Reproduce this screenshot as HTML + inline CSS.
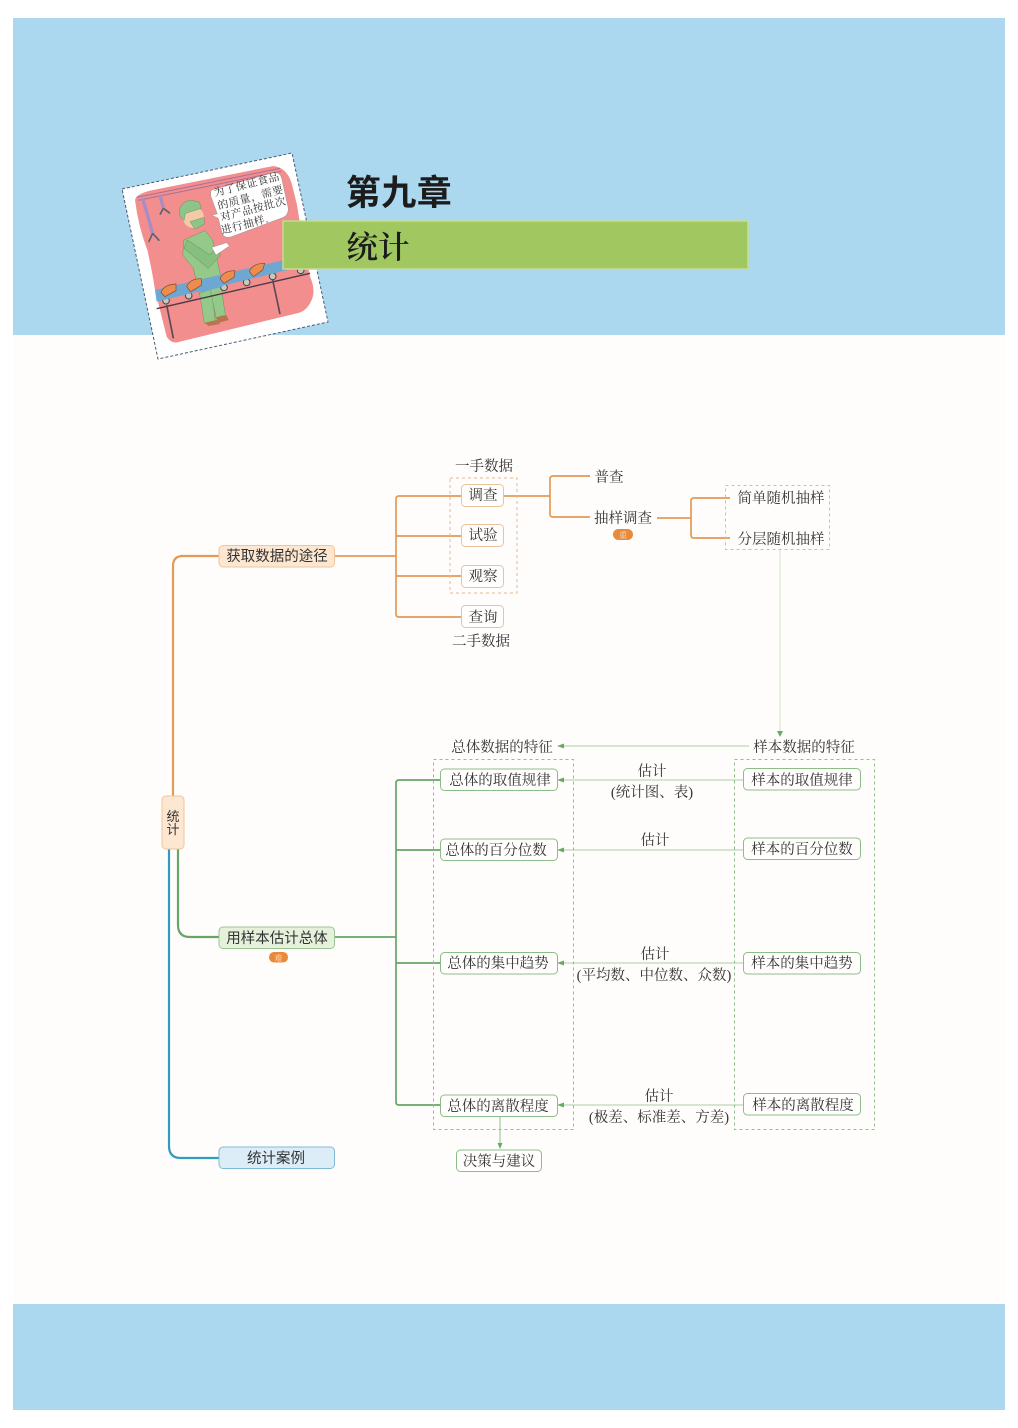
<!DOCTYPE html>
<html><head><meta charset="utf-8"><style>
html,body{margin:0;padding:0;background:#fff}
svg{display:block;filter:blur(.35px)}
text{font-family:"Liberation Serif","Noto Serif CJK SC",serif;fill:#333;font-size:14.5px;text-anchor:middle}
.n{font-family:"Liberation Sans","Noto Sans CJK SC",sans-serif}
</style></head><body>
<svg width="1018" height="1428" viewBox="0 0 1018 1428" xmlns="http://www.w3.org/2000/svg">
<rect width="1018" height="1428" fill="#fff"/>
<rect x="13" y="18" width="992" height="1392" fill="#fffdfb"/>
<rect x="13" y="18" width="992" height="317" fill="#acd8ef"/>
<rect x="13" y="1304" width="992" height="106" fill="#acd8ef"/>

<!-- card -->
<polygon points="122,189 292,153 328,322 158,359" fill="#fff" stroke="#4a5a70" stroke-width="1" stroke-dasharray="3 2"/>
<g transform="translate(110,140) scale(.33333)">
<path d="M75,180Q78,163 120,152L490,78Q530,82 545,130L560,190L585,340L600,410Q618,450 605,480Q590,515 560,520L210,605Q185,615 170,590L135,450Q128,400 112,330Q85,260 75,180Z" fill="#f28e8d"/>
<path d="M80,172L510,85M84,181L514,94" stroke="#a8709a" stroke-width="3" fill="none"/>
<path d="M98,175L128,280M150,165L160,205" stroke="#a98cc4" stroke-width="10"/>
<path d="M128,280L116,306M128,280L148,302M160,205L150,224M160,205L180,220" stroke="#5f5f6e" stroke-width="5" fill="none"/>
<!-- bubble -->
<path d="M305,150L490,98Q510,95 515,115L535,205Q535,225 520,232L365,290Q340,298 335,275L325,235L305,225L322,222L303,170Q300,155 305,150Z" fill="#fff" stroke="#777" stroke-width="1"/>
<!-- legs -->
<path d="M268,455L305,448L316,545L283,550Z" fill="#94c98a" stroke="#4f7a4a" stroke-width="1"/>
<path d="M300,445L332,430L346,525L318,533Z" fill="#94c98a" stroke="#4f7a4a" stroke-width="1"/>
<path d="M285,548L320,540L330,552L295,558ZM318,532L350,526L356,540L325,549Z" fill="#b8744a"/>
<!-- rollers -->
<g fill="#c9c9bb" stroke="#444" stroke-width="3"><circle cx="168" cy="482" r="10"/><circle cx="236" cy="467" r="10"/><circle cx="342" cy="442" r="10"/><circle cx="410" cy="427" r="10"/><circle cx="488" cy="409" r="10"/><circle cx="572" cy="391" r="10"/></g>
<!-- torso -->
<path d="M222,300L285,272L308,300L338,435L268,460L250,385L218,345Z" fill="#94c98a" stroke="#4f7a4a" stroke-width="1"/>
<!-- conveyor -->
<polygon points="135,450 600,342 608,372 140,485" fill="#6ea7d2"/>
<path d="M140,506L600,400" stroke="#4a3a44" stroke-width="4"/>
<path d="M170,495L190,595M488,420L510,522" stroke="#5a4a56" stroke-width="5"/>
<path d="M268,430L335,412L338,440L272,458Z" fill="#6ea7d2"/>
<!-- arm -->
<path d="M222,325L232,300L300,345L322,320L332,345L295,385Z" fill="#86bf80" stroke="#4f7a4a" stroke-width="1"/>
<circle cx="250" cy="232" r="32" fill="#f4c9a5"/>
<path d="M208,225Q205,190 240,180L268,186L274,205L226,220L222,242Z" fill="#8cc48a" stroke="#4f7a4a" stroke-width="1"/>
<path d="M240,245L282,232L283,252L255,268Z" fill="#8cc48a" stroke="#4f7a4a" stroke-width="1"/>
<polygon points="305,322 350,308 358,318 318,345" fill="#fff" stroke="#777"/>
<!-- items -->
<g fill="#ee8c4e" stroke="#7a4a30" stroke-width="2"><path d="M153,458Q160,434 198,432L198,452L165,470Z"/><path d="M230,440Q240,415 274,416L274,436L242,455Z"/><path d="M330,416Q340,392 375,392L372,412L342,430Z"/><path d="M418,394Q428,370 464,370L458,390L430,410Z"/></g>
</g>
<text transform="translate(247.5,188) rotate(-14.5)" style="font-size:10.8px;fill:#333;letter-spacing:.5px">为了保证食品</text>
<text transform="translate(251.5,201) rotate(-14.5)" style="font-size:10.8px;fill:#333;letter-spacing:.5px">的质量，需要</text>
<text transform="translate(254,212.5) rotate(-14.5)" style="font-size:10.8px;fill:#333;letter-spacing:.5px">对产品按批次</text>
<text transform="translate(245.5,228) rotate(-14.5)" style="font-size:10.8px;fill:#333;letter-spacing:.5px">进行抽样.</text>

<!-- title -->
<rect x="283" y="221" width="465" height="48" fill="#a1c761" stroke="#c4dc96" stroke-width="1.5"/>
<text class="n" x="399" y="205" style="font-size:35px;font-weight:700;fill:#1c1c1c;letter-spacing:.5px">第九章</text>
<text x="378" y="258" style="font-size:31.5px;fill:#1c1c1c;font-weight:600">统计</text>

<!-- connectors -->
<g fill="none" stroke-linecap="butt">
<g stroke="#e39a57" stroke-width="1.7">
<path d="M173,797V566Q173,556 183,556H219" stroke-width="2.2"/>
<path d="M334,556H396"/>
<path d="M461,496H399Q396,496 396,499V614Q396,617 399,617H461"/>
<path d="M396,536H461M396,576H461"/>
<path d="M504,496H550"/>
<path d="M590,476H553Q550,476 550,479V514Q550,517 553,517H590"/>
<path d="M657,518H691"/>
<path d="M730,498H694Q691,498 691,501V535Q691,538 694,538H730"/>
</g>
<g stroke="#65a565" stroke-width="1.7">
<path d="M178,849V925Q178,937 190,937H219" stroke-width="2.2"/>
<path d="M334,937H396"/>
<path d="M440,780H399Q396,780 396,783V1102Q396,1105 399,1105H440"/>
<path d="M396,850H440M396,963H440"/>
</g>
<path d="M169,849V1146Q169,1158 181,1158H219" stroke="#2f9cc0" stroke-width="2.2"/>
<g stroke="#c4dfbe" stroke-width="1">
<path d="M780,550V732" stroke="#cfe0c8"/>
<path d="M563,746H749M563,780H743M563,850H743M563,963H743M563,1105H743" stroke="#a9d0a4"/>
<path d="M500,1116V1145" stroke="#8cbf88"/>
</g>
</g>
<g fill="#66ab63">
<polygon points="780,737 777,731 783,731"/>
<polygon points="557,746 564,743.5 564,748.5"/>
<polygon points="557,780 564,777.5 564,782.5"/>
<polygon points="557,850 564,847.5 564,852.5"/>
<polygon points="557,963 564,960.5 564,965.5"/>
<polygon points="557,1105 564,1102.5 564,1107.5"/>
<polygon points="500,1149 497.5,1143 502.5,1143"/>
</g>

<!-- dashed -->
<g fill="none" stroke-dasharray="3 3" stroke-width="1">
<rect x="450" y="478" width="67" height="115" stroke="#e3b98c"/>
<rect x="725.5" y="485.5" width="104" height="64" stroke="#e3b98c"/>
<rect x="433.5" y="759.5" width="140" height="370" stroke="#8fc08a"/>
<rect x="734.5" y="759.5" width="140" height="370" stroke="#8fc08a"/>
</g>

<!-- nodes -->
<g fill="#fffefc" stroke="#e8c39c" stroke-width="1">
<rect x="461.5" y="484.5" width="42" height="22" rx="4"/>
<rect x="461.5" y="524.5" width="42" height="22" rx="4"/>
<rect x="461.5" y="565.5" width="42" height="22" rx="4"/>
<rect x="461.5" y="605.5" width="42" height="22" rx="4"/>
</g>
<rect x="219" y="545.5" width="115.5" height="21.5" rx="4" fill="#fde7d1" stroke="#efc59c"/>
<rect x="219" y="927" width="115.5" height="21.5" rx="4" fill="#e6f1dc" stroke="#9cc596"/>
<rect x="219" y="1147" width="115.5" height="21.5" rx="4" fill="#dcedf8" stroke="#7fbbd8"/>
<rect x="162" y="796" width="22" height="53" rx="4" fill="#fde7d1" stroke="#efc59c"/>
<g fill="#fffefc" stroke="#8cbd88" stroke-width="1">
<rect x="440.5" y="769" width="117" height="21.5" rx="4"/>
<rect x="440.5" y="839" width="117" height="21.5" rx="4"/>
<rect x="440.5" y="952.5" width="117" height="21.5" rx="4"/>
<rect x="440.5" y="1095" width="117" height="21.5" rx="4"/>
<rect x="743.5" y="768.5" width="117" height="21.5" rx="4"/>
<rect x="743.5" y="838" width="117" height="21.5" rx="4"/>
<rect x="743.5" y="952.5" width="117" height="21.5" rx="4"/>
<rect x="743.5" y="1093.5" width="117" height="21.5" rx="4"/>
<rect x="456.5" y="1150" width="85" height="21.5" rx="4"/>
</g>

<!-- badges -->
<rect x="613" y="529" width="20" height="11" rx="5.5" fill="#e8893c"/>
<rect x="269" y="952" width="19" height="10.5" rx="5" fill="#e8893c"/>
<text x="623" y="538" style="font-size:8px;fill:#fbe3cc">重</text>
<text x="278.5" y="961" style="font-size:8px;fill:#fbe3cc">难</text>

<!-- labels -->
<g>
<text x="484" y="471">一手数据</text>
<text x="483" y="500">调查</text>
<text x="483" y="540">试验</text>
<text x="483" y="581">观察</text>
<text x="483" y="622">查询</text>
<text x="481" y="646">二手数据</text>
<text x="609" y="482">普查</text>
<text x="623" y="523">抽样调查</text>
<text x="781" y="503">简单随机抽样</text>
<text x="781" y="544">分层随机抽样</text>
<text class="n" x="277" y="561">获取数据的途径</text>
<text class="n" x="277" y="943">用样本估计总体</text>
<text class="n" x="276" y="1163">统计案例</text>
<text class="n" x="173" y="821" style="font-size:13px">统</text>
<text class="n" x="173" y="834" style="font-size:13px">计</text>
<text x="502" y="752">总体数据的特征</text>
<text x="804" y="752">样本数据的特征</text>
<text x="500" y="785">总体的取值规律</text>
<text x="496" y="855">总体的百分位数</text>
<text x="498" y="968">总体的集中趋势</text>
<text x="498" y="1111">总体的离散程度</text>
<text x="802" y="785">样本的取值规律</text>
<text x="802" y="854">样本的百分位数</text>
<text x="802" y="968">样本的集中趋势</text>
<text x="803" y="1110">样本的离散程度</text>
<text x="499" y="1166">决策与建议</text>
<text x="652" y="776">估计</text>
<text x="652" y="797">(统计图、表)</text>
<text x="655" y="845">估计</text>
<text x="655" y="959">估计</text>
<text x="654" y="980">(平均数、中位数、众数)</text>
<text x="659" y="1101">估计</text>
<text x="659" y="1122">(极差、标准差、方差)</text>
</g>
</svg>
</body></html>
